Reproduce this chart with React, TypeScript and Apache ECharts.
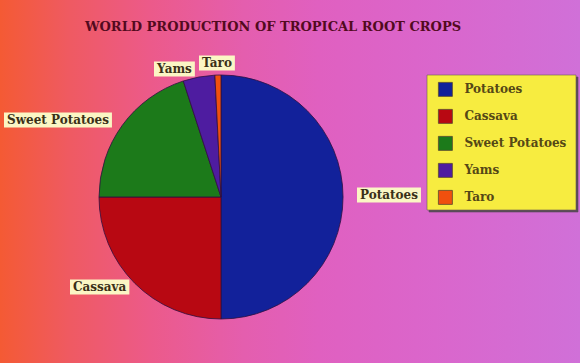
import React, { useEffect, useRef } from "react";
import * as echarts from "echarts";

const titleText = "WORLD PRODUCTION OF TROPICAL ROOT CROPS";
const categories = ["Potatoes", "Cassava", "Sweet Potatoes", "Yams", "Taro"];
const shares = [50, 25, 20, 4.2, 0.8];
const sliceColors = ["#12219a", "#b80812", "#1c7a1a", "#4e1ca0", "#f0500e"];
// label anchor (left x, middle y) for each slice label
const labelAnchors: [number, number][] = [
  [357, 195],
  [70, 287],
  [4, 120],
  [154, 69],
  [199, 63],
];

const FONT = "DejaVu Serif";

export default function App() {
  const ref = useRef<HTMLDivElement>(null);
  useEffect(() => {
    if (!ref.current) return;
    const chart = echarts.init(ref.current, undefined, { renderer: "svg" });
    chart.setOption({
      animation: false,
      backgroundColor: "transparent",
      title: {
        text: titleText,
        left: 268,
        textAlign: "center",
        top: 15,
        textStyle: {
          fontFamily: FONT,
          fontWeight: "bold",
          fontSize: 13,
          color: "#520a1e",
        },
      },
      graphic: [
        {
          type: "rect",
          z: 0,
          shape: { x: 427, y: 75, width: 149, height: 135 },
          style: {
            fill: "#f7ec40",
            stroke: "#6a5a50",
            lineWidth: 0.6,
            shadowColor: "#5a4a5a",
            shadowOffsetX: 2,
            shadowOffsetY: 2,
            shadowBlur: 0,
          },
        },
      ],
      legend: {
        orient: "vertical",
        left: 438,
        top: 82,
        z: 5,
        padding: 0,
        itemWidth: 14,
        itemHeight: 14,
        itemGap: 12.2,
        icon: "rect",
        itemStyle: { borderColor: "#5a4a30", borderWidth: 0.8 },
        textStyle: {
          fontFamily: FONT,
          fontWeight: "bold",
          fontSize: 12,
          color: "#554816",
          padding: [0, 0, 0, 7],
        },
        data: categories,
      },
      series: [
        {
          type: "pie",
          center: [221, 197],
          radius: 122,
          startAngle: 90,
          clockwise: true,
          avoidLabelOverlap: false,
          itemStyle: { borderColor: "#301040", borderWidth: 0.8 },
          label: {
            show: true,
            position: "outside",
            formatter: "{b}",
            fontFamily: FONT,
            fontWeight: "bold",
            fontSize: 12,
            color: "#3a3018",
            backgroundColor: "#fbf6c4",
            padding: [2, 3, 1, 3],
          },
          labelLine: { show: false },
          labelLayout: (params: any) => {
            const a = labelAnchors[params.dataIndex];
            return { x: a[0], y: a[1], align: "left", verticalAlign: "middle" };
          },
          emphasis: { disabled: true },
          data: categories.map((c, i) => ({
            name: c,
            value: shares[i],
            itemStyle: { color: sliceColors[i] },
          })),
        },
      ],
    });
    return () => chart.dispose();
  }, []);
  return (
    <div
      ref={ref}
      style={{
        position: "fixed",
        left: 0,
        top: 0,
        width: 580,
        height: 363,
        background:
          "linear-gradient(90deg, #f45a34 0%, #ef5a62 12%, #ec5a8a 26%, #e45eae 42%, #e060c0 55%, #da66cc 75%, #d070d8 100%)",
      }}
    />
  );
}
